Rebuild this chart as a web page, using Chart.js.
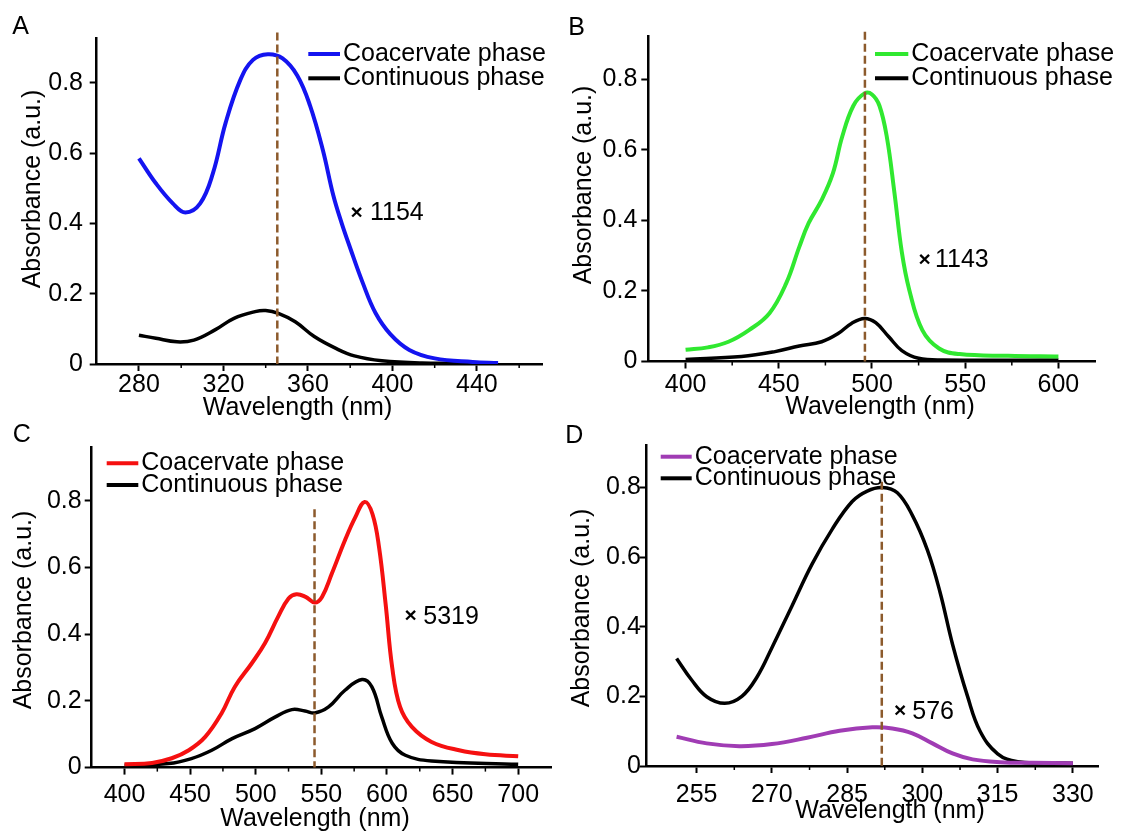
<!DOCTYPE html>
<html>
<head>
<meta charset="utf-8">
<script src="https://cdn.jsdelivr.net/npm/chart.js@4.4.0/dist/chart.umd.min.js"></script>
<style>
  body { margin: 0; background: #fff; }
  #wrap { position: relative; width: 1121px; height: 834px; }
  canvas { position: absolute; }
</style>
</head>
<body>
<div id="wrap">
  <canvas id="cA" width="560" height="420" style="left:0px;top:0px"></canvas>
  <canvas id="cB" width="561" height="420" style="left:560px;top:0px"></canvas>
  <canvas id="cC" width="560" height="414" style="left:0px;top:420px"></canvas>
  <canvas id="cD" width="561" height="414" style="left:560px;top:420px"></canvas>
</div>
<script>
// ---- data (wavelength nm / absorbance a.u.)
// A
var waveA1 = [280, 288, 296, 302, 309, 315, 321, 328, 334, 341, 348, 355, 361, 367, 372, 376, 380, 386, 392, 399, 408, 420, 438, 450];
var coacA  = [0.585, 0.514, 0.457, 0.431, 0.457, 0.542, 0.685, 0.808, 0.865, 0.881, 0.869, 0.82, 0.735, 0.61, 0.48, 0.40, 0.33, 0.23, 0.145, 0.085, 0.04, 0.016, 0.006, 0.003];
var waveA2 = [280, 288, 298, 306, 316, 325, 335, 340, 346, 354, 363, 373, 382, 395, 414, 450];
var contA  = [0.082, 0.073, 0.063, 0.068, 0.097, 0.13, 0.149, 0.152, 0.144, 0.12, 0.078, 0.045, 0.023, 0.009, 0.003, 0.002];
var xTicksA = [280, 320, 360, 400, 440];
var xMinorA = [300, 340, 380, 420, 460];

// B
var waveB1 = [400, 412, 423, 434, 445, 454, 461, 466, 473, 479, 484, 490, 496, 500, 504, 508, 512, 516, 520, 527, 536, 547, 573, 600];
var coacB  = [0.033, 0.040, 0.056, 0.089, 0.137, 0.222, 0.325, 0.392, 0.458, 0.533, 0.637, 0.725, 0.760, 0.757, 0.725, 0.635, 0.48, 0.31, 0.203, 0.089, 0.037, 0.021, 0.016, 0.014];
var waveB2 = [400, 430, 448, 461, 473, 482, 489, 496, 502, 509, 516, 525, 538, 600];
var contB  = [0.006, 0.014, 0.028, 0.044, 0.056, 0.08, 0.108, 0.122, 0.11, 0.07, 0.031, 0.009, 0.004, 0.004];
var xTicksB = [400, 450, 500, 550, 600];
var xMinorB = [425, 475, 525, 575];

// C
var waveC1 = [400, 421, 436, 449, 461.5, 474, 484, 497, 507, 517, 525, 531, 538, 545, 550.5, 558, 568, 576, 583, 589, 594, 599, 604, 610, 619, 634, 655, 675, 700];
var coacC  = [0.010, 0.014, 0.028, 0.052, 0.092, 0.163, 0.242, 0.313, 0.373, 0.452, 0.507, 0.52, 0.512, 0.495, 0.512, 0.582, 0.682, 0.752, 0.797, 0.76, 0.66, 0.49, 0.30, 0.182, 0.122, 0.077, 0.052, 0.040, 0.034];
var waveC2 = [400, 433.5, 451, 466.5, 482, 499.5, 515, 527.5, 537.5, 545, 555.5, 568, 581, 588.5, 596, 604, 614, 634, 700];
var contC  = [0.007, 0.012, 0.027, 0.052, 0.087, 0.117, 0.152, 0.174, 0.17, 0.164, 0.182, 0.232, 0.264, 0.242, 0.152, 0.073, 0.037, 0.020, 0.010];
var xTicksC = [400, 450, 500, 550, 600, 650, 700];
var xMinorC = [425, 475, 525, 575, 625, 675];

// D
var waveD1 = [251, 257, 263.5, 270, 277, 283.5, 290, 294, 298, 302, 306, 310, 315.5, 322, 330];
var coacD  = [0.084, 0.065, 0.057, 0.063, 0.081, 0.101, 0.111, 0.108, 0.094, 0.065, 0.036, 0.019, 0.011, 0.009, 0.008];
var waveD2 = [251, 254, 257, 260.6, 264, 267, 270, 274, 278, 282, 286, 289, 292, 295, 298, 301, 303.5, 306, 309, 311.5, 315, 319, 325, 330];
var contD  = [0.309, 0.247, 0.199, 0.180, 0.20, 0.255, 0.34, 0.46, 0.58, 0.68, 0.76, 0.79, 0.80, 0.785, 0.72, 0.62, 0.50, 0.35, 0.20, 0.10, 0.035, 0.012, 0.009, 0.008];
var xTicksD = [255, 270, 285, 300, 315, 330];
var xMinorD = [262.5, 277.5, 292.5, 307.5, 322.5];

var yTicks = [0, 0.2, 0.4, 0.6, 0.8];
var yLabels = ['0', '0.2', '0.4', '0.6', '0.8'];

// peak marker (dashed) and the scale factor written next to each plot
var peaks   = { A: 345.5, B: 496.2, C: 544.8, D: 291.9 };
var factors = { A: '1154', B: '1143', C: '5319', D: '576' };

var FONT = '"Liberation Sans", Arial, Helvetica, sans-serif';
Chart.defaults.font.family = FONT;
Chart.defaults.font.size = 25;
Chart.defaults.color = '#000';

// legend, titles, dashed line, x factor
var deco = {
    id: 'deco',
    afterDatasetsDraw: function(chart, args, o) {
        var ctx = chart.ctx;
        var xs = chart.scales.x, ys = chart.scales.y;
        var px = xs.getPixelForValue(o.peak);
        ctx.save();
        ctx.beginPath();
        ctx.setLineDash([8, 4]);//虛線
        ctx.lineWidth = 2.5;
        ctx.strokeStyle = '#8c5a2c';
        ctx.moveTo(px, ys.getPixelForValue(o.peakTop));
        ctx.lineTo(px, chart.chartArea.bottom);
        ctx.stroke();
        ctx.restore();
    },
    afterDraw: function(chart, args, o) {
        var ctx = chart.ctx;
        var xs = chart.scales.x;
        var bottom = chart.chartArea.bottom;
        ctx.save();
        // minor ticks
        ctx.strokeStyle = '#000';
        ctx.lineWidth = 1.5;
        o.minor.forEach(function(v) {
            var p = xs.getPixelForValue(v);
            ctx.beginPath();
            ctx.moveTo(p, bottom);
            ctx.lineTo(p, bottom + 4);
            ctx.stroke();
        });
        ctx.fillStyle = '#000';
        ctx.textBaseline = 'middle';
        ctx.font = '25px ' + FONT;
        // panel letter
        ctx.textAlign = 'center';
        ctx.fillText(o.letter, o.letterAt[0], o.letterAt[1]);
        // axis titles
        ctx.fillText('Wavelength (nm)', o.xTitleAt[0], o.xTitleAt[1]);
        ctx.save();
        ctx.translate(o.yTitleAt[0], o.yTitleAt[1]);
        ctx.rotate(-Math.PI / 2);
        ctx.fillText('Absorbance (a.u.)', 0, 0);
        ctx.restore();
        // legend
        ctx.textAlign = 'left';
        var lg = o.legendAt;
        chart.data.datasets.forEach(function(ds, i) {
            var y = lg[1] + i * lg[3];
            ctx.beginPath();
            ctx.strokeStyle = ds.borderColor;
            ctx.lineWidth = 4;
            ctx.moveTo(lg[0], y);
            ctx.lineTo(lg[0] + lg[2], y);
            ctx.stroke();
            ctx.fillText(ds.label, lg[0] + lg[2] + 3, y);
        });
        // x factor
        ctx.font = 'bold 21px ' + FONT;
        ctx.fillText('\u00d7', o.multAt[0], o.multAt[1]);
        ctx.font = '25px ' + FONT;
        ctx.fillText(o.factor, o.multAt[2], o.multAt[1]);
        ctx.restore();
    }
};

function pts(xs, ys) {
    return xs.map(function(v, i) { return { x: v, y: ys[i] }; });
}

var panels = [
    { id: 'cA', letter: 'A', w1: waveA1, c1: coacA, w2: waveA2, c2: contA, color: '#1414f0',
      xMin: 260, xMax: 471, yMax: 0.926, xTicks: xTicksA, minor: xMinorA, peakTop: 0.943,
      top: 38.4, padR: 17.6, yW: 96.7, xH: 56, xPad: -1, yPad: 6.7,
      letterAt: [20.6, 26.7], xTitleAt: [297.5, 408], yTitleAt: [33, 189],
      legendAt: [308.3, 54, 31.7, 24.3], multAt: [350.5, 213.5, 370] },
    { id: 'cB', letter: 'B', w1: waveB1, c1: coacB, w2: waveB2, c2: contB, color: '#30e830',
      xMin: 380, xMax: 620, yMax: 0.921, xTicks: xTicksB, minor: xMinorB, peakTop: 0.935,
      top: 36.6, padR: 25.3, yW: 88.3, xH: 58.5, xPad: 1.5, yPad: 4,
      letterAt: [16.5, 28], xTitleAt: [320, 407], yTitleAt: [24, 185],
      legendAt: [315, 54, 33.3, 24.3], multAt: [358.5, 260, 375] },
    { id: 'cC', letter: 'C', w1: waveC1, c1: coacC, w2: waveC2, c2: contC, color: '#f51010',
      xMin: 375, xMax: 725, yMax: 0.962, xTicks: xTicksC, minor: xMinorC, peakTop: 0.775,
      top: 26.9, padR: 9, yW: 91.7, xH: 66.4, xPad: 5.4, yPad: 3,
      letterAt: [21.7, 15.3], xTitleAt: [315, 399], yTitleAt: [24, 190],
      legendAt: [106.7, 43.3, 31.6, 21.7], multAt: [404.5, 196.7, 423.3] },
    { id: 'cD', letter: 'D', w1: waveD1, c1: coacD, w2: waveD2, c2: contD, color: '#a03cb4',
      xMin: 245, xMax: 335, yMax: 0.922, xTicks: xTicksD, minor: xMinorD, peakTop: 0.817,
      top: 25.1, padR: 23, yW: 86.5, xH: 68, xPad: 7, yPad: -1.3,
      letterAt: [14.4, 15.8], xTitleAt: [330, 391], yTitleAt: [22.4, 188],
      legendAt: [100.7, 36.7, 31, 21.6], multAt: [334, 291.7, 352.3] }
];

panels.forEach(function(p) {
    var ctx = document.getElementById(p.id).getContext('2d');
    new Chart(ctx, {
        type: 'line',
        data: {
            datasets: [{
                label: 'Coacervate phase',
                data: pts(p.w1, p.c1),
                borderColor: p.color,
                borderWidth: 4
            }, {
                label: 'Continuous phase',
                data: pts(p.w2, p.c2),
                borderColor: '#000',
                borderWidth: 3.5
            }]
        },
        options: {
            responsive: false,
            animation: false,
            events: [],
            layout: { padding: { left: 0, top: p.top, right: p.padR, bottom: 0 } },
            elements: {
                point: { radius: 0 },
                line: { tension: 0.4, fill: false }
            },
            scales: {
                x: {
                    type: 'linear',
                    min: p.xMin,
                    max: p.xMax,
                    afterBuildTicks: function(s) { s.ticks = p.xTicks.map(function(v) { return { value: v }; }); },
                    afterFit: function(s) { s.height = p.xH; },
                    grid: { display: true, drawOnChartArea: false, drawTicks: true, tickLength: 7, tickWidth: 2, tickColor: '#000' },
                    border: { display: true, color: '#000', width: 2.5 },
                    ticks: { color: '#000', padding: p.xPad, maxRotation: 0, autoSkip: false,
                             callback: function(v) { return String(v); } }
                },
                y: {
                    type: 'linear',
                    min: 0,
                    max: p.yMax,
                    afterBuildTicks: function(s) { s.ticks = yTicks.map(function(v) { return { value: v }; }); },
                    afterFit: function(s) { s.width = p.yW; },
                    grid: { display: true, drawOnChartArea: false, drawTicks: true, tickLength: 7, tickWidth: 2, tickColor: '#000' },
                    border: { display: true, color: '#000', width: 2.5 },
                    ticks: { color: '#000', padding: p.yPad, autoSkip: false,
                             callback: function(v, i) { return yLabels[i]; } }
                }
            },
            plugins: {
                legend: { display: false },
                tooltip: { enabled: false },
                deco: {
                    peak: peaks[p.letter], peakTop: p.peakTop, factor: factors[p.letter],
                    letter: p.letter, minor: p.minor,
                    letterAt: p.letterAt, xTitleAt: p.xTitleAt, yTitleAt: p.yTitleAt,
                    legendAt: p.legendAt, multAt: p.multAt
                }
            }
        },
        plugins: [deco]
    });
});
</script>
</body>
</html>
